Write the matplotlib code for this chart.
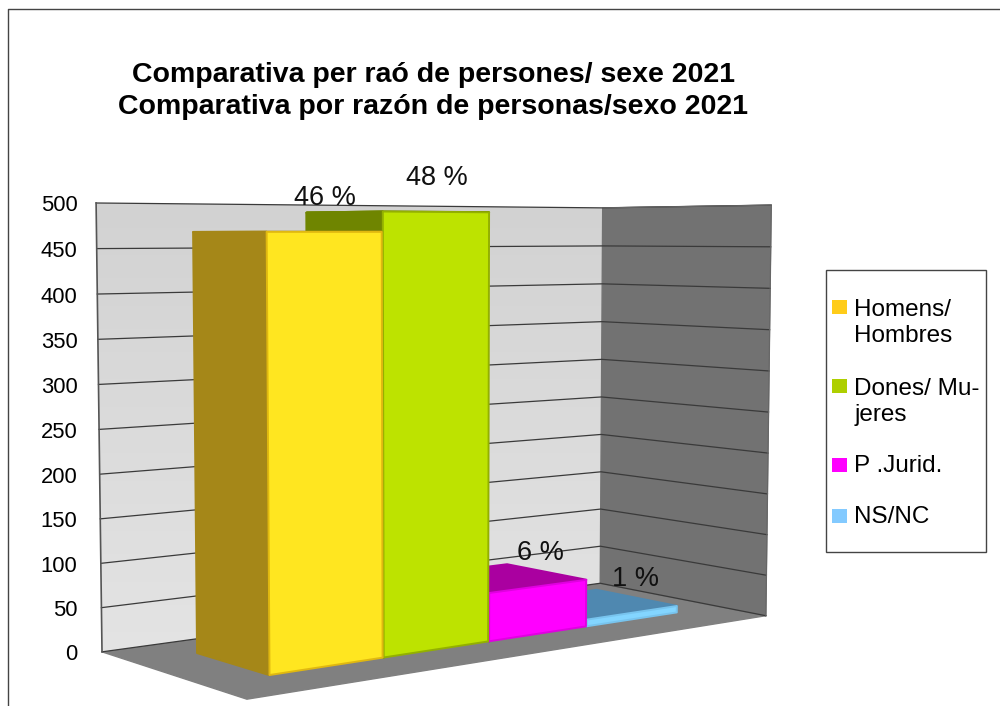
import numpy as np
import matplotlib.pyplot as plt
from matplotlib.colors import LinearSegmentedColormap
from matplotlib.patches import Polygon, Rectangle

plt.rcParams['font.family'] = ['Liberation Sans', 'DejaVu Sans']

categories = ['Homens/\nHombres', 'Dones/ Mu-\njeres', 'P .Jurid.', 'NS/NC']
values = [468, 490, 56, 8]
pct_labels = ['46 %', '48 %', '6 %', '1 %']
y_ticks = [0, 50, 100, 150, 200, 250, 300, 350, 400, 450, 500]
y_max = 500

front_colors = ['#FFE620', '#BDE300', '#FF00FF', '#83D5FF']
side_colors = ['#A58718', '#6F8500', '#AA00A0', '#4F88B0']
edge_colors = ['#E0B810', '#93B000', '#E000E0', '#78C4EE']
legend_colors = ['#FFCC19', '#AECF00', '#FF00FF', '#83CAFF']

# pixel layout: the figure is one axes in image coords
fig = plt.figure(figsize=(10, 7.06), dpi=100)
ax = fig.add_axes([0, 0, 1, 1])
ax.set_xlim(0, 1000)
ax.set_ylim(706, 0)
ax.axis('off')

# camera: fit a projection from the box corners (u along x, v depth, w height)
box_world = np.array([(0, 1, 0), (0, 1, 1), (1, 1, 0), (1, 1, 1), (1, 0, 0), (1, 0, 1), (0, 0, 0)], float)
box_px = np.array([(102, 652), (96, 203), (600, 583), (603, 208), (766, 616), (771, 205), (247, 699)], float)
A = []
b = []
for (u, v, w), (x, y) in zip(box_world, box_px):
    A.append([u, v, w, 1, 0, 0, 0, 0, -x * u, -x * v, -x * w])
    b.append(x)
    A.append([0, 0, 0, 0, u, v, w, 1, -y * u, -y * v, -y * w])
    b.append(y)
M = np.append(np.linalg.lstsq(np.array(A), np.array(b), rcond=None)[0], 1).reshape(3, 4)


def proj(u, v, val):
    p = M @ np.array([u, v, val / y_max, 1.0])
    return p[:2] / p[2]


def face(pts, color, edge=None, z=2, lw=1.0):
    ax.add_patch(Polygon([proj(*p) for p in pts], closed=True, facecolor=color,
                         edgecolor=edge if edge else color, lw=lw, zorder=z, joinstyle='round'))


# page border
ax.plot([8, 8, 1000], [706, 9, 9], color='#444444', lw=1.0, zorder=1)

# floor and walls
face([(0, 0, 0), (1, 0, 0), (1, 1, 0), (0, 1, 0)], '#808080', z=1.5)
back = Polygon([proj(0, 1, 0), proj(1, 1, 0), proj(1, 1, y_max), proj(0, 1, y_max)], closed=True,
               facecolor='none', edgecolor='none')
ax.add_patch(back)
wall_cmap = LinearSegmentedColormap.from_list('wall', ['#D2D2D2', '#E4E4E4'])
grad = ax.imshow(np.linspace(0, 1, 100).reshape(-1, 1), extent=(90, 610, 660, 200), cmap=wall_cmap,
                 aspect='auto', zorder=1.6)
grad.set_clip_path(back)
ax.set_xlim(0, 1000)
ax.set_ylim(706, 0)
face([(1, 1, 0), (1, 0, 0), (1, 0, y_max), (1, 1, y_max)], '#727272', z=1.7)

# grid lines on both walls
for t in y_ticks:
    path = np.array([proj(0, 1, t), proj(1, 1, t), proj(1, 0, t)])
    ax.plot(path[:, 0], path[:, 1], color='#3A3A3A', lw=0.9, zorder=1.8)
    ax.text(77.5, proj(0, 1, t)[1] + 3, str(t), ha='right', va='center', fontsize=15.8, color='black')
left_edge = np.array([proj(0, 1, 0), proj(0, 1, y_max)])
ax.plot(left_edge[:, 0], left_edge[:, 1], color='#555555', lw=1.2, zorder=1.9)
right_edge = np.array([proj(1, 0, 0), proj(1, 0, y_max), proj(1, 1, y_max)])
ax.plot(right_edge[:, 0], right_edge[:, 1], color='#666666', lw=0.8, zorder=1.9)

# bars, far right first so the nearer ones overlap
bar_start = 0.108
bar_step = 0.2
depth_front = 0.275
depth_back = 0.765
for i in range(len(values) - 1, -1, -1):
    u0 = bar_start + bar_step * i
    u1 = u0 + bar_step - 0.002
    val = values[i]
    z = 3 + (len(values) - i)
    face([(u0, depth_back, 0), (u0, depth_front, 0), (u0, depth_front, val), (u0, depth_back, val)],
         side_colors[i], z=z, lw=1.6)
    face([(u0, depth_back, val), (u1, depth_back, val), (u1, depth_front, val), (u0, depth_front, val)],
         side_colors[i], z=z, lw=1.6)
    face([(u0, depth_front, 0), (u1, depth_front, 0), (u1, depth_front, val), (u0, depth_front, val)],
         front_colors[i], edge=edge_colors[i], z=z + 0.5, lw=1.4)

# percent labels
label_px = [(325, 198), (437, 178), (540, 553), (635, 579)]
for (x, y), s in zip(label_px, pct_labels):
    ax.text(x, y, s, ha='center', va='center', fontsize=19.5, color='#111111', zorder=10)

# title
ax.text(433, 75, 'Comparativa per raó de persones/ sexe 2021', ha='center', va='center',
        fontsize=20.5, fontweight='bold', color='black')
ax.text(433, 107, 'Comparativa por razón de personas/sexo 2021', ha='center', va='center',
        fontsize=20.5, fontweight='bold', color='black')

# legend
ax.add_patch(Rectangle((826, 270), 160, 282, facecolor='white', edgecolor='#444444', lw=1.0, zorder=5))
swatch_y = [300, 379, 458, 509]
text_y = [323, 402, 466, 517]
for c, lab, sy, ty in zip(legend_colors, categories, swatch_y, text_y):
    ax.add_patch(Rectangle((832, sy), 15, 14, facecolor=c, edgecolor='none', zorder=6))
    ax.text(854.5, ty, lab, ha='left', va='center', fontsize=17.5, linespacing=1.28, color='black', zorder=6)

fig.savefig('out.png', dpi=100)
